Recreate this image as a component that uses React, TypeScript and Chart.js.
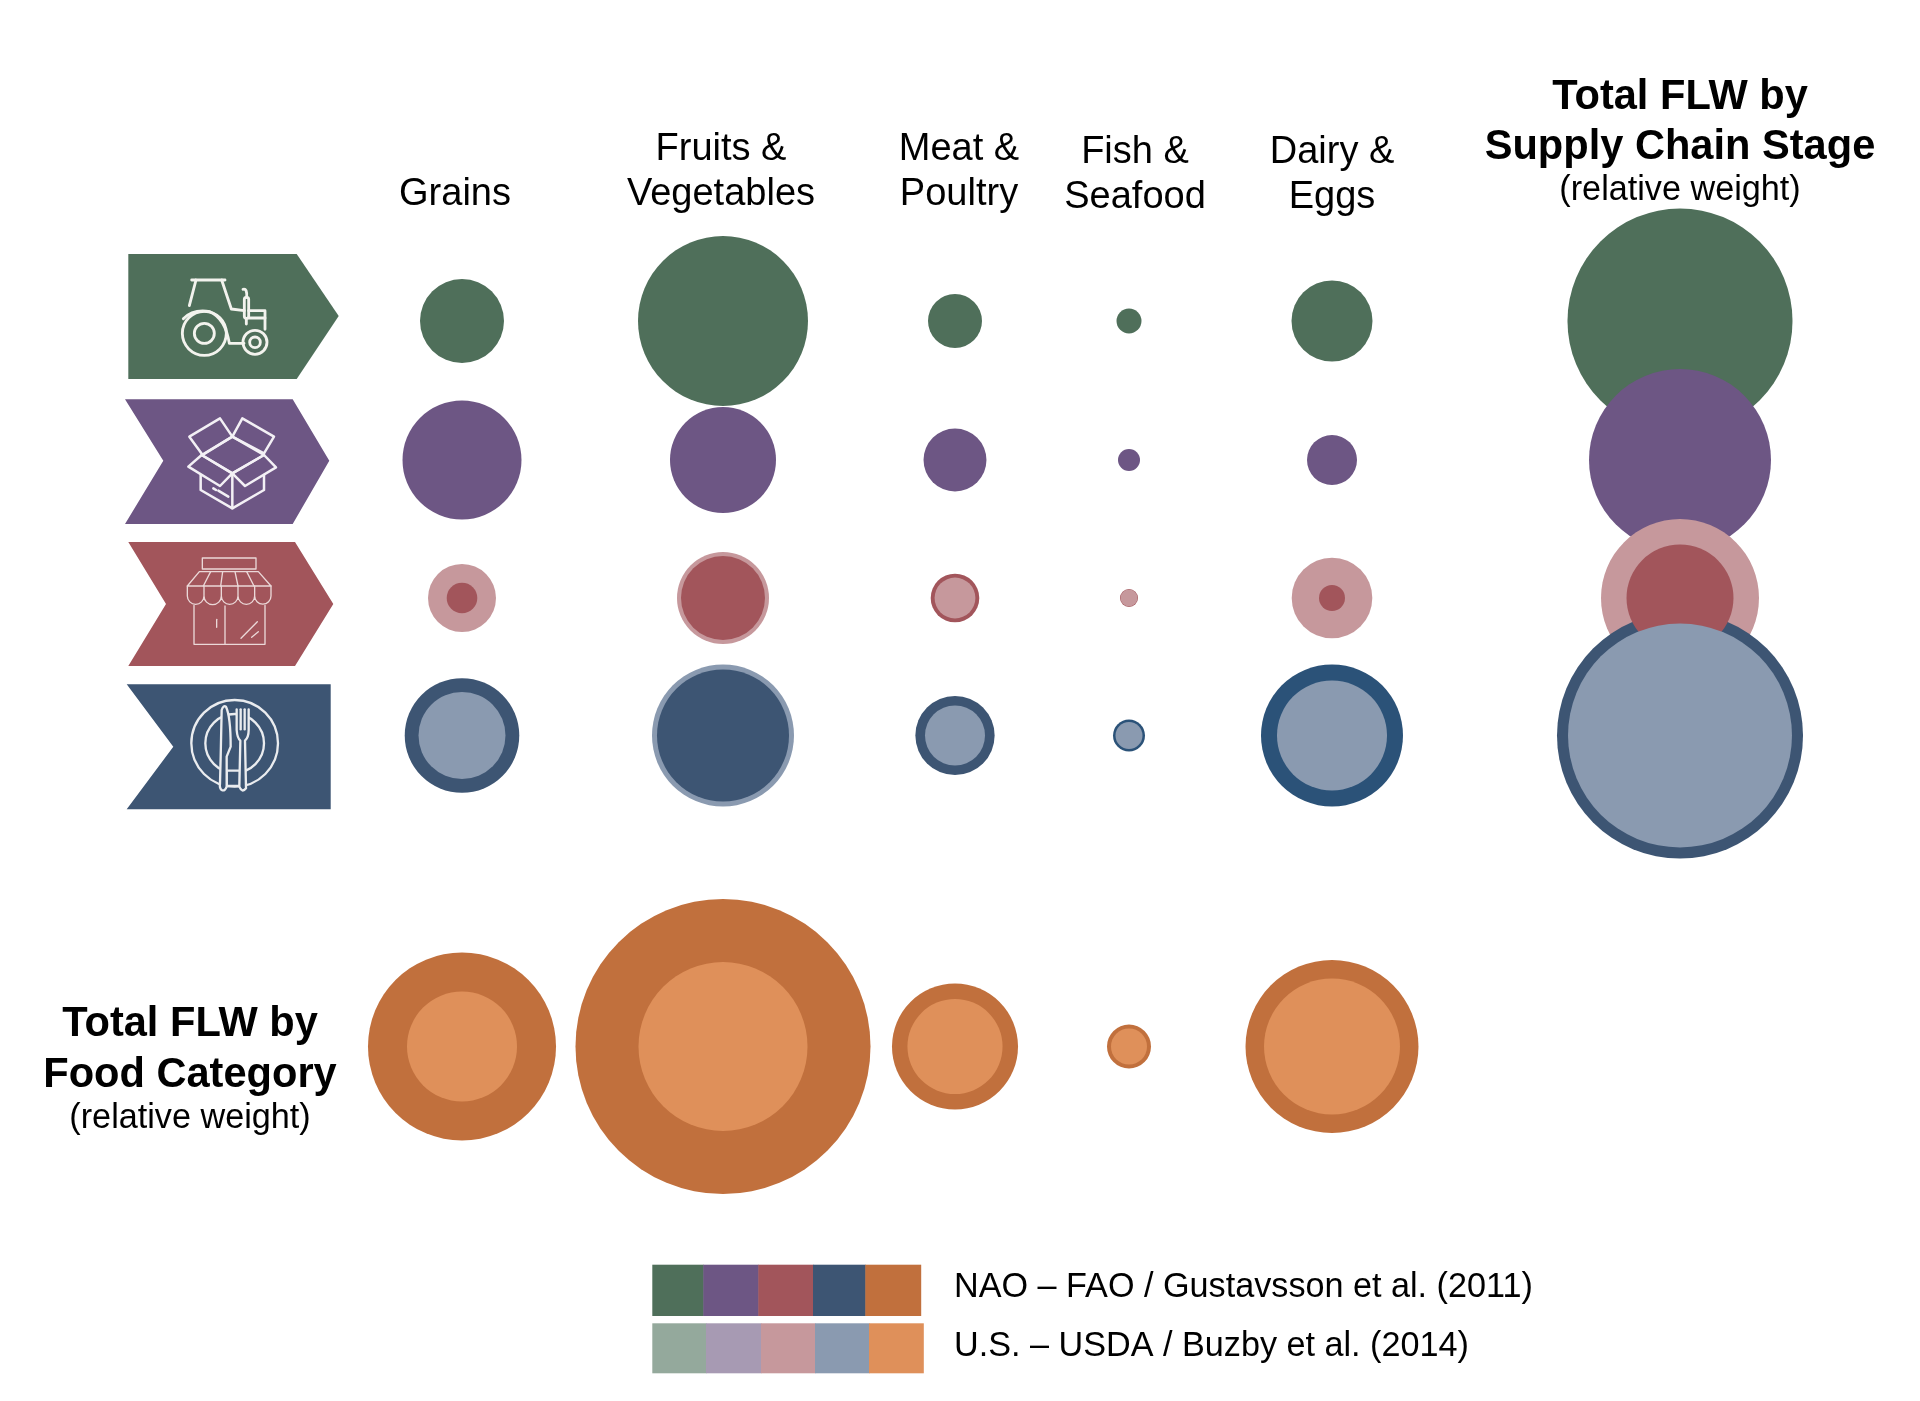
import React, { useEffect, useRef } from "react";
import { Chart, registerables } from "chart.js";

Chart.register(...registerables);

// ---------- data: relative weights (bubble area) ----------
const foodCategories = ["Grains", "Fruits & Vegetables", "Meat & Poultry", "Fish & Seafood", "Dairy & Eggs"];
const supplyStages = ["Production", "Processing", "Retail", "Consumption"];

const productionNao = [17.64, 72.25, 7.29, 1.56, 16.4];
const processingNao = [35.4, 28.1, 9.9, 1.21, 6.25];
const retailNao = [2.34, 17.64, 5.9, 0.81, 1.69];
const retailUs = [11.56, 21.16, 4.16, 0.72, 16.24];
const consumptionNao = [32.8, 43.56, 15.7, 2.56, 50.4];
const consumptionUs = [18.9, 50.4, 9, 1.82, 30.25];
const categoryTotalNao = [88.4, 217.6, 39.7, 4.84, 74.8];
const categoryTotalUs = [30.25, 71.4, 22.6, 3.24, 46.2];

// Total FLW by supply chain stage, in stages order
const stageTotalNao = [126.6, 82.8, 28.6, 151.3];
const stageTotalUs = [62.4, 125.4];

const legendLabels = ["NAO \u2013 FAO / Gustavsson et al. (2011)", "U.S. \u2013 USDA / Buzby et al. (2014)"];

// ---------- styles and layout ----------
const FONT = '"Liberation Sans", Arial, sans-serif';
const DARK = { green: "#4F6F5A", purple: "#6D5684", red: "#A2555B", navy: "#3D5573", orange: "#C1703D" };
const LIGHT = { green: "#94A99C", purple: "#A79AB3", red: "#C6989C", navy: "#8A9AB0", orange: "#DF905A" };
const DEEP_NAVY = "#2B5278";
const W = 1920;
const H = 1401;
const COLUMN_CENTERS = [462, 723, 955, 1129, 1332];
const TOTAL_COLUMN = 1680;
const ROW_CENTERS = [321, 460, 598, 735.5, 1046.5];
const radiusOf = (weight: number) => 10 * Math.sqrt(weight);

type Row = { nao: number[]; us?: number[]; dark: string; light: string; row: number };
const rows: Row[] = [
  { nao: productionNao, dark: DARK.green, light: LIGHT.green, row: 0 },
  { nao: processingNao, dark: DARK.purple, light: LIGHT.purple, row: 1 },
  { nao: retailNao, us: retailUs, dark: DARK.red, light: LIGHT.red, row: 2 },
  { nao: consumptionNao, us: consumptionUs, dark: DARK.navy, light: LIGHT.navy, row: 3 },
  { nao: categoryTotalNao, us: categoryTotalUs, dark: DARK.orange, light: LIGHT.orange, row: 4 },
];

type Pt = { x: number; y: number; r: number; color: string };

function toDataset(label: string, points: Pt[]) {
  return {
    label,
    data: points,
    backgroundColor: points.map((p) => p.color),
    borderWidth: 0,
    hoverBorderWidth: 0,
  };
}

function buildDataset(r: Row, label: string) {
  const points: Pt[] = [];
  r.nao.forEach((v, i) => {
    const deep = r.row === 3 && (i === 4 || i === 3);
    const pair = [{ v, color: deep ? DEEP_NAVY : r.dark }];
    if (r.us) pair.push({ v: r.us[i], color: r.light });
    pair.sort((a, b) => b.v - a.v);
    pair.forEach((p) =>
      points.push({ x: COLUMN_CENTERS[i], y: ROW_CENTERS[r.row], r: radiusOf(p.v), color: p.color })
    );
  });
  return toDataset(label, points);
}

function buildStageTotals() {
  const pt = (row: number, weight: number, color: string): Pt => ({
    x: TOTAL_COLUMN,
    y: ROW_CENTERS[row],
    r: radiusOf(weight),
    color,
  });
  // The stacked column overlaps: pink, navy ring, red disc, then the light blue disc.
  return toDataset("Total by supply chain stage", [
    pt(0, stageTotalNao[0], DARK.green),
    pt(1, stageTotalNao[1], DARK.purple),
    pt(2, stageTotalUs[0], LIGHT.red),
    pt(3, stageTotalNao[3], DARK.navy),
    pt(2, stageTotalNao[2], DARK.red),
    pt(3, stageTotalUs[1], LIGHT.navy),
  ]);
}

type Ctx = CanvasRenderingContext2D;

function poly(ctx: Ctx, pts: number[][], close = true) {
  ctx.beginPath();
  pts.forEach(([x, y], i) => (i ? ctx.lineTo(x, y) : ctx.moveTo(x, y)));
  if (close) ctx.closePath();
}
function circle(ctx: Ctx, x: number, y: number, r: number) {
  ctx.beginPath();
  ctx.arc(x, y, r, 0, Math.PI * 2);
  ctx.stroke();
}

function drawTractor(ctx: Ctx) {
  poly(ctx, [[245, 120], [345, 120]], false); ctx.stroke();
  poly(ctx, [[258, 120], [238, 197]], false); ctx.stroke();
  poly(ctx, [[335, 120], [364, 207], [403, 212]], false); ctx.stroke();
  poly(ctx, [[416, 212], [465, 212], [465, 268]], false); ctx.stroke();
  poly(ctx, [[416, 234], [465, 234]], false); ctx.stroke();
  ctx.beginPath();
  ctx.moveTo(220, 236);
  ctx.quadraticCurveTo(250, 206, 300, 215);
  ctx.quadraticCurveTo(346, 236, 358, 310);
  ctx.lineTo(402, 310);
  ctx.stroke();
  circle(ctx, 283, 280, 66);
  circle(ctx, 283, 280, 30);
  circle(ctx, 435, 307, 36);
  circle(ctx, 435, 307, 16);
  ctx.beginPath();
  ctx.roundRect(403, 172, 13, 63, 6);
  ctx.stroke();
  ctx.beginPath();
  ctx.moveTo(399, 148);
  ctx.quadraticCurveTo(412, 144, 410, 172);
  ctx.moveTo(409, 235);
  ctx.lineTo(409, 252);
  ctx.stroke();
}

function drawBox(ctx: Ctx) {
  const shapes = [
    [[238, 590], [330, 535], [367, 590], [278, 645]],
    [[367, 590], [397, 535], [492, 590], [462, 640]],
    [[367, 590], [462, 645], [367, 700], [275, 645]],
    [[275, 645], [235, 680], [330, 738], [367, 700]],
    [[462, 645], [498, 682], [405, 738], [367, 700]],
  ];
  shapes.forEach((s) => { poly(ctx, s); ctx.stroke(); });
  poly(ctx, [[272, 705], [272, 750], [367, 805], [462, 750], [462, 705]], false); ctx.stroke();
  poly(ctx, [[367, 700], [367, 805]], false); ctx.stroke();
  poly(ctx, [[310, 745], [318, 750]], false); ctx.stroke();
  poly(ctx, [[325, 752], [355, 770]], false); ctx.stroke();
}

function drawShop(ctx: Ctx) {
  ctx.strokeRect(277, 84, 161, 33);
  poly(ctx, [[232, 168], [268, 125], [445, 125], [483, 168]]); ctx.stroke();
  [[302, 280], [338, 332], [375, 384], [410, 432]].forEach(([a, b]) => {
    poly(ctx, [[a, 125], [b, 168]], false); ctx.stroke();
  });
  const xs = [232, 282, 334, 384, 434, 483];
  ctx.beginPath();
  ctx.moveTo(232, 168);
  ctx.lineTo(232, 198);
  for (let i = 0; i < 5; i++) {
    const mid = (xs[i] + xs[i + 1]) / 2;
    ctx.arc(mid, 198, (xs[i + 1] - xs[i]) / 2, Math.PI, 0, true);
    ctx.moveTo(xs[i + 1], 168);
    ctx.lineTo(xs[i + 1], 198);
  }
  ctx.stroke();
  poly(ctx, [[252, 226], [252, 343], [465, 343], [465, 226]], false); ctx.stroke();
  poly(ctx, [[345, 228], [345, 343]], false); ctx.stroke();
  poly(ctx, [[320, 268], [320, 292]], false); ctx.stroke();
  poly(ctx, [[393, 325], [442, 275]], false); ctx.stroke();
  poly(ctx, [[425, 322], [445, 305]], false); ctx.stroke();
}

function drawPlate(ctx: Ctx) {
  circle(ctx, 374, 640, 130);
  circle(ctx, 374, 640, 88);
  ctx.fillStyle = DARK.navy;
  poly(ctx, [[350, 722], [390, 722], [390, 768], [350, 768]]);
  ctx.fill();
  ctx.stroke();
  ctx.beginPath();
  ctx.moveTo(335, 540);
  ctx.quadraticCurveTo(340, 525, 348, 530);
  ctx.quadraticCurveTo(362, 560, 362, 650);
  ctx.lineTo(350, 680);
  ctx.lineTo(350, 770);
  ctx.quadraticCurveTo(345, 785, 335, 780);
  ctx.quadraticCurveTo(328, 775, 330, 760);
  ctx.lineTo(332, 680);
  ctx.closePath();
  ctx.fill();
  ctx.stroke();
  ctx.beginPath();
  ctx.moveTo(380, 538);
  ctx.lineTo(380, 600);
  ctx.quadraticCurveTo(382, 625, 391, 632);
  ctx.lineTo(388, 770);
  ctx.quadraticCurveTo(396, 790, 408, 775);
  ctx.lineTo(405, 632);
  ctx.quadraticCurveTo(416, 622, 416, 600);
  ctx.lineTo(416, 538);
  ctx.fill();
  ctx.stroke();
  [392, 404].forEach((x) => { poly(ctx, [[x, 538], [x, 598]], false); ctx.stroke(); });
}

const chevrons = [
  { color: DARK.green, pts: [[128.3, 254], [296.7, 254], [338.7, 316], [296.7, 379], [128.3, 379]] },
  { color: DARK.purple, pts: [[125, 399.3], [292.7, 399.3], [329.3, 460.7], [292.7, 524], [125, 524], [163.3, 460.7]] },
  { color: DARK.red, pts: [[128.3, 542], [295, 542], [333.3, 604], [295, 666], [128.3, 666], [166, 604]] },
  { color: DARK.navy, pts: [[126.7, 684.3], [330.7, 684.3], [330.7, 809.3], [126.7, 809.3], [173.3, 746.7]] },
];

const HEAD = `38px ${FONT}`;
const BOLD = `bold 41.6px ${FONT}`;
const SUB = `34.2px ${FONT}`;
const texts: { t: string; x: number; y: number; font: string }[] = [
  { t: "Grains", x: 455, y: 194.5, font: HEAD },
  { t: "Fruits &", x: 721, y: 149.5, font: HEAD },
  { t: "Vegetables", x: 721, y: 194.5, font: HEAD },
  { t: "Meat &", x: 959, y: 149.5, font: HEAD },
  { t: "Poultry", x: 959, y: 194.5, font: HEAD },
  { t: "Fish &", x: 1135, y: 152.5, font: HEAD },
  { t: "Seafood", x: 1135, y: 198, font: HEAD },
  { t: "Dairy &", x: 1332, y: 152.5, font: HEAD },
  { t: "Eggs", x: 1332, y: 198, font: HEAD },
  { t: "Total FLW by", x: 1680, y: 97.5, font: BOLD },
  { t: "Supply Chain Stage", x: 1680, y: 147.5, font: BOLD },
  { t: "(relative weight)", x: 1680, y: 191, font: SUB },
  { t: "Total FLW by", x: 190, y: 1024.5, font: BOLD },
  { t: "Food Category", x: 190, y: 1075.5, font: BOLD },
  { t: "(relative weight)", x: 190, y: 1119, font: SUB },
];

const legendRows = [
  { y0: 1264.7, y1: 1316, xs: [652.3, 703.3, 758.3, 813, 865.3, 920.7], colors: Object.values(DARK), textY: 1288 },
  { y0: 1323.3, y1: 1373.3, xs: [652.3, 706, 761, 815, 869, 923.3], colors: Object.values(LIGHT), textY: 1347 },
];

const decorPlugin = {
  id: "decor",
  afterDatasetsDraw(chart: Chart) {
    const ctx = chart.ctx as Ctx;
    ctx.save();
    chevrons.forEach((c) => {
      ctx.fillStyle = c.color;
      poly(ctx, c.pts);
      ctx.fill();
    });
    const icon = (ox: number, oy: number, lw: number, color: string, fn: (c: Ctx) => void) => {
      ctx.save();
      ctx.translate(ox, oy);
      ctx.scale(1 / 3, 1 / 3);
      ctx.lineWidth = lw;
      ctx.strokeStyle = color;
      ctx.lineJoin = "round";
      ctx.lineCap = "round";
      fn(ctx);
      ctx.restore();
    };
    icon(110, 240, 8.5, "#F3F3EE", drawTractor);
    icon(110, 240, 7.5, "#F3F0F5", drawBox);
    icon(110, 530, 4, "#EBD8D8", drawShop);
    icon(110, 530, 7, "#EAECEF", drawPlate);

    legendRows.forEach((r, ri) => {
      r.colors.forEach((col, i) => {
        ctx.fillStyle = col;
        ctx.fillRect(r.xs[i], r.y0, r.xs[i + 1] - r.xs[i] + 0.5, r.y1 - r.y0);
      });
      ctx.fillStyle = "#000";
      ctx.font = `34.2px ${FONT}`;
      ctx.textAlign = "left";
      ctx.textBaseline = "middle";
      ctx.fillText(legendLabels[ri], 954, r.textY);
    });

    ctx.fillStyle = "#000";
    ctx.textAlign = "center";
    ctx.textBaseline = "middle";
    texts.forEach((t) => {
      ctx.font = t.font;
      ctx.fillText(t.t, t.x, t.y);
    });
    ctx.restore();
  },
};

export default function App() {
  const ref = useRef<HTMLCanvasElement>(null);
  useEffect(() => {
    document.body.style.margin = "0";
    document.body.style.background = "#fff";
    const names = [...supplyStages, "Total by food category"];
    const built = [buildStageTotals(), ...rows.map((r, i) => buildDataset(r, names[i]))];
    const chart = new Chart(ref.current!, {
      type: "bubble",
      data: { datasets: built },
      options: {
        responsive: false,
        animation: false,
        events: [],
        layout: { padding: 0, autoPadding: false },
        plugins: { legend: { display: false }, tooltip: { enabled: false } },
        scales: {
          x: { type: "linear", min: 0, max: W, display: false },
          y: { type: "linear", min: 0, max: H, reverse: true, display: false },
        },
      },
      plugins: [decorPlugin],
    });
    return () => chart.destroy();
  }, []);
  return (
    <canvas
      ref={ref}
      width={W}
      height={H}
      style={{ display: "block", width: W, height: H }}
      aria-label={foodCategories.join(", ")}
    />
  );
}
